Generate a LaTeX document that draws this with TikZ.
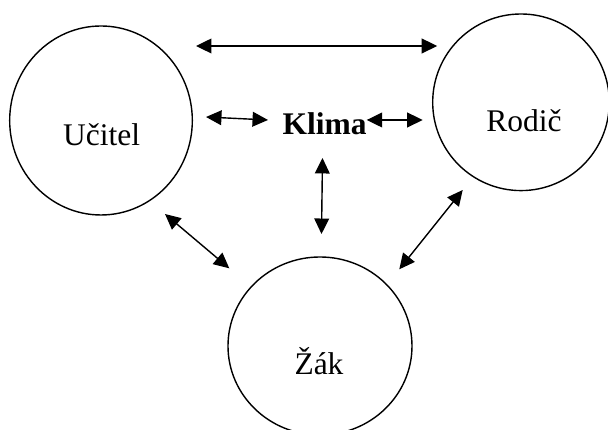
\documentclass[tikz,border=0pt]{standalone}
\usepackage{fontspec}
\setmainfont{Liberation Serif}
\usetikzlibrary{arrows.meta}

\begin{document}
\begin{tikzpicture}[line width=1pt,>={Triangle[length=11pt,width=10.5pt]},
  lbl/.style={font=\fontsize{22.4}{26}\selectfont,anchor=base,inner sep=0pt}]
\useasboundingbox (0,0) rectangle (15.2,10.75);
% ---------- kruhy ----------
\draw (2.525,7.7375) ellipse (2.283 and 2.3625);
\draw (13.025,8.1925) circle (2.2075);
\draw (8.0,2.1) ellipse (2.3 and 2.225);
% ---------- popisky ----------
\node[lbl] (ucitel) at (2.54,7.1) {Učitel};
\node[lbl] (rodic) at (13.1,7.4575) {Rodič};
\node[lbl] (zak) at (7.975,1.375) {Žák};
\node[lbl,font=\fontsize{22.4}{26}\selectfont\bfseries] (klima) at (8.1175,7.375) {Klima};
% ---------- konce šipek ----------
\coordinate (ur1) at (4.9,9.6);
\coordinate (ur2) at (10.93,9.6);
\coordinate (uk1) at (5.15,7.825);
\coordinate (uk2) at (6.7,7.75);
\coordinate (kr1) at (9.1675,7.75);
\coordinate (kr2) at (10.5675,7.75);
\coordinate (kz1) at (8.0625,6.8);
\coordinate (kz2) at (8.0375,4.9);
\coordinate (uz1) at (4.125,5.4);
\coordinate (uz2) at (5.7325,4.0425);
\coordinate (rz1) at (11.5675,6.0);
\coordinate (rz2) at (9.9825,4.0175);
% ---------- šipky ----------
\draw[<->] (ur1) -- (ur2);
\draw[<->] (uk1) -- (uk2);
\draw[<->] (kr1) -- (kr2);
\draw[<->] (kz1) -- (kz2);
\draw[<->] (uz1) -- (uz2);
\draw[<->] (rz1) -- (rz2);
\end{tikzpicture}
\end{document}
